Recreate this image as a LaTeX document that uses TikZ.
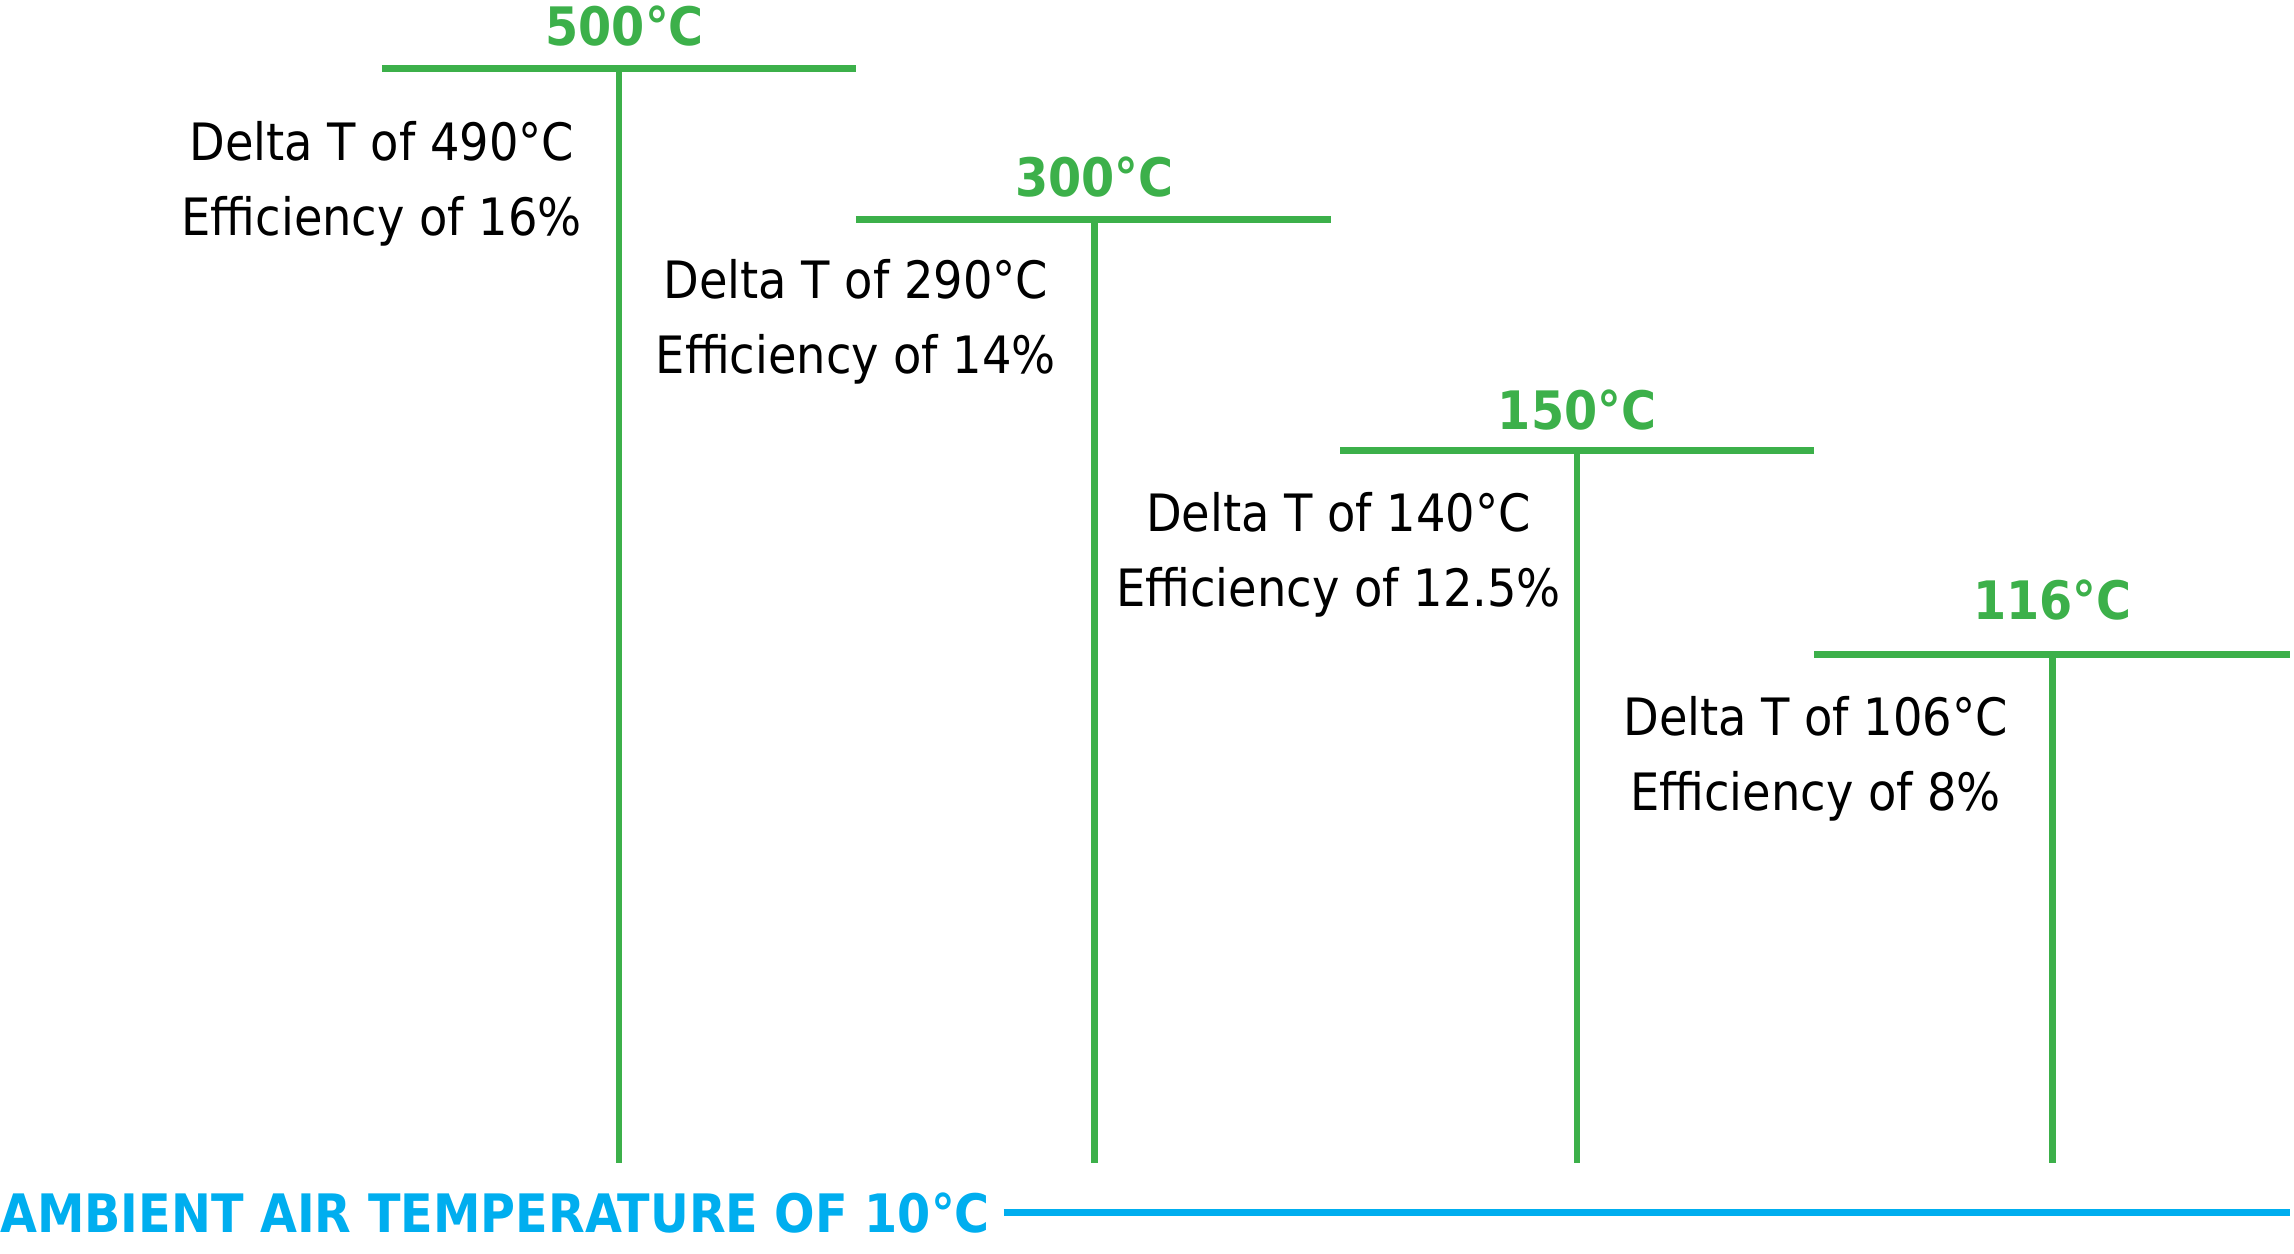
\documentclass[tikz,border=0pt]{standalone}
\usepackage{fontspec}
\setmainfont{DejaVu Sans Condensed}
\definecolor{tgreen}{HTML}{3CB04A}
\definecolor{tblue}{HTML}{00AEEF}
\begin{document}
\begin{tikzpicture}[x=1pt,y=-1pt,
  bar/.style={draw=tgreen,line width=7pt},
  stem/.style={draw=tgreen,line width=6.5pt},
  temp/.style={text=tgreen,font=\fontsize{53}{60}\selectfont\bfseries,inner sep=0pt},
  info/.style={text=black,font=\fontsize{51.5}{74.6}\selectfont,align=center,inner sep=0pt},
  amb/.style={text=tblue,font=\fontsize{53}{60}\selectfont\bfseries,inner sep=0pt,anchor=west}]
\useasboundingbox (0,0) rectangle (2294,1253);
% bar 1
\coordinate (h1l) at (381.8,68.8); \coordinate (h1r) at (855.9,68.8);
\coordinate (v1t) at (618.8,68.8); \coordinate (v1b) at (618.8,1163);
\node[temp] (t1) at (624.7,26.3) {500°C};
\node[info] (i1) at (381.8,183.5) {Delta T of 490°C\\Efficiency of 16\%};
% bar 2
\coordinate (h2l) at (855.9,219.5); \coordinate (h2r) at (1331.3,219.5);
\coordinate (v2t) at (1094.3,219.5); \coordinate (v2b) at (1094.3,1163);
\node[temp] (t2) at (1094.3,177) {300°C};
\node[info] (i2) at (855.9,321.5) {Delta T of 290°C\\Efficiency of 14\%};
% bar 3
\coordinate (h3l) at (1340,450.6); \coordinate (h3r) at (1814,450.6);
\coordinate (v3t) at (1577,450.6); \coordinate (v3b) at (1577,1163);
\node[temp] (t3) at (1577,409.6) {150°C};
\node[info] (i3) at (1338.6,555) {Delta T of 140°C\\Efficiency of 12.5\%};
% bar 4
\coordinate (h4l) at (1814,654); \coordinate (h4r) at (2289.6,654);
\coordinate (v4t) at (2052.6,654); \coordinate (v4b) at (2052.6,1163);
\node[temp] (t4) at (2052.6,599.8) {116°C};
\node[info] (i4) at (1815.6,758.5) {Delta T of 106°C\\Efficiency of 8\%};
\foreach \i in {1,2,3,4}{
  \draw[bar] (h\i l) -- (h\i r);
  \draw[stem] (v\i t) -- (v\i b);
}
% ambient
\node[amb] (amb) at (0,1212.8) {AMBIENT AIR TEMPERATURE OF 10°C};
\coordinate (ar) at (2289.6,1212.8);
\draw[draw=tblue,line width=7pt] (1003.6,1212.8) coordinate (al) -- (ar);
\end{tikzpicture}
\end{document}
